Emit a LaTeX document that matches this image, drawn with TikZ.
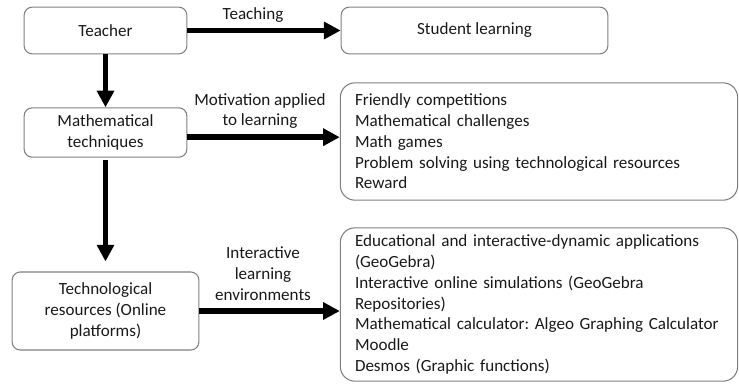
\documentclass[tikz,border=0pt]{standalone}
\usepackage{fontspec}
\setmainfont{Carlito}
\usetikzlibrary{arrows.meta,positioning}
\frenchspacing

\tikzset{
  box/.style={draw=black!50, line width=0.8pt, rounded corners=6pt, align=center,
    inner sep=0pt, text=black!90},
  listbox/.style={draw=black!50, line width=0.8pt, rounded corners=11pt, align=left,
    inner xsep=11pt, inner ysep=0pt, text width=276pt, text=black!90},
  flow/.style={line width=4.3pt, -{Triangle[length=12.5pt,width=12.5pt]}},
  lbl/.style={align=center, text=black!90}
}

\begin{document}
\begin{tikzpicture}[x=0.75pt, y=-0.75pt, font=\fontsize{12.8}{15.6}\selectfont]
    \useasboundingbox (0,0) rectangle (739,383);

    % Left column
    \node[box, minimum width=122pt, minimum height=35pt] (teacher) at (105.5,30.5) {Teacher};
    \node[box, minimum width=122pt, minimum height=37pt] (techniques) at (105.5,132.5)
        {Mathematical\\techniques};
    \node[box, minimum width=140pt, minimum height=58.5pt] (resources) at (105.5,311)
        {Technological\\resources (Online\\platforms)};

    % Right column
    \node[box, minimum width=200pt, minimum height=35pt] (learning) at (474.5,30.5) {Student learning};
    \node[listbox, minimum height=88pt] (games) at (539,141.5)
        {Friendly competitions\\
         Mathematical challenges\\
         Math games\\
         Problem solving using technological resources\\
         Reward};
    \node[listbox, minimum height=115pt] (tools) at (539,304.5)
        {Educational and interactive-dynamic applications\\
         (GeoGebra)\\
         Interactive online simulations (GeoGebra\\
         Repositories)\\
         Mathematical calculator: Algeo Graphing Calculator\\
         Moodle\\
         Desmos (Graphic functions)};

    % Arrows
    \draw[flow] (teacher.east) -- (learning.west);
    \draw[flow] (teacher.south) -- (techniques.north);
    \draw[flow] ([yshift=-3.5pt]techniques.east) -- ([yshift=-3.5pt]techniques.east -| games.west);
    \draw[flow, shorten <=2pt, shorten >=7.5pt] (techniques.south) -- (resources.north);
    \draw[flow] (resources.east) -- (resources.east -| tools.west);

    % Arrow labels
    \node[lbl] (teachlbl) at (253,15) {Teaching};
    \node[lbl] (motivlbl) at (260,111) {Motivation applied\\to learning};
    \node[lbl] (envlbl) at (263,273.5) {Interactive\\learning\\environments};
\end{tikzpicture}
\end{document}
